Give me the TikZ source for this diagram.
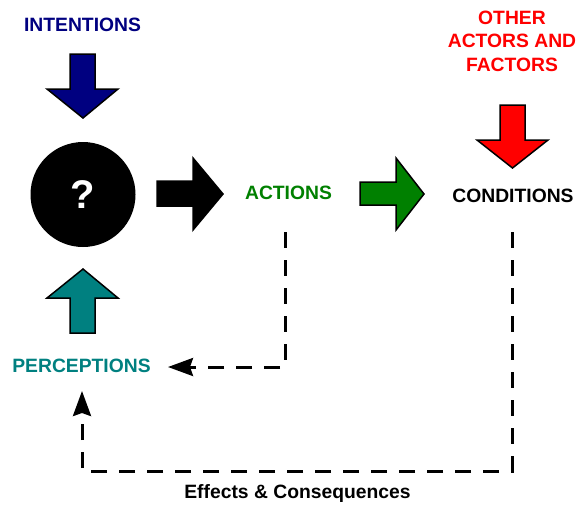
\documentclass[tikz,border=0pt]{standalone}
\usepackage{fontspec}
\setmainfont{Liberation Sans}
\usetikzlibrary{arrows.meta}
\definecolor{cnavy}{RGB}{0,0,128}
\definecolor{cgreen}{RGB}{0,128,0}
\definecolor{cteal}{RGB}{0,128,128}
\definecolor{cred}{RGB}{255,0,0}
\tikzset{
  lbl/.style={inner sep=0pt, font=\fontsize{19.3}{23.5}\selectfont\bfseries, align=center},
  blockarrow/.style={draw=black, line width=1.5pt, line join=miter},
  fb/.style={dash pattern=on 16pt off 12pt, line width=3pt},
  tipA/.style={-{Stealth[length=25pt,width=18pt,inset=3pt]}}
}
\begin{document}
\begin{tikzpicture}[x=1pt,y=-1pt]
\useasboundingbox (0,0) rectangle (577,504);
% text nodes
\node[lbl, text=cnavy] (intentions) at (82.5,24.5) {INTENTIONS};
\node[lbl, text=cred] (other) at (512,41) {OTHER\\ACTORS AND\\FACTORS};
\node[lbl, text=cgreen] (actions) at (288.5,192.5) {ACTIONS};
\node[lbl, text=black] (conditions) at (513,195.5) {CONDITIONS};
\node[lbl, text=cteal] (perceptions) at (81.5,365.5) {PERCEPTIONS};
\node[lbl, anchor=base] (effects) at (297.5,498) {Effects \& Consequences};
% mind
\node[circle, fill=black, minimum size=105pt, inner sep=0pt, text=white,
      font=\fontsize{40}{40}\selectfont\bfseries] (mind) at (83,194.5) {?};
% block arrows
\draw[blockarrow, fill=cnavy] (70,54) -- (95,54) -- (95,89) -- (118,89) -- (83,118) -- (47,89) -- (70,89) -- cycle;
\draw[blockarrow, fill=black] (157,181) -- (193,181) -- (193,158) -- (223,194) -- (193,230) -- (193,206) -- (157,206) -- cycle;
\draw[blockarrow, fill=cgreen] (360,182) -- (396,182) -- (396,158) -- (424,194) -- (396,230) -- (396,205) -- (360,205) -- cycle;
\draw[blockarrow, fill=cred] (500,105) -- (525,105) -- (525,140) -- (548,140) -- (512.5,168) -- (477,140) -- (500,140) -- cycle;
\draw[blockarrow, fill=cteal] (70,333) -- (95,333) -- (95,298) -- (118,298) -- (83,269) -- (47,298) -- (70,298) -- cycle;
% feedback connectors
\coordinate (aStart) at (285,232);
\coordinate (pEast) at (168,367);
\coordinate (cStart) at (512,232);
\coordinate (pSouth) at (82,391);
\draw[fb, tipA] (aStart) |- (pEast);
\draw[fb, tipA] (cStart) |- (82,471) -- (pSouth);
\end{tikzpicture}
\end{document}
